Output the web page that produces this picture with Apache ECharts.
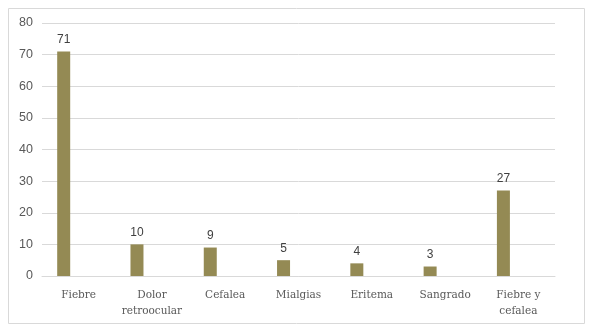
<!DOCTYPE html>
<html><head><meta charset="utf-8">
<script src="https://cdn.jsdelivr.net/npm/echarts@6/dist/echarts.min.js"></script>
<style>html,body{margin:0;padding:0;background:#fff}#c{width:589px;height:331px}</style>
</head><body><div id="c"></div>
<script>
const categories = ['Fiebre', 'Dolor\nretroocular', 'Cefalea', 'Mialgias', 'Eritema', 'Sangrado', 'Fiebre y\ncefalea'];
const values = [71, 10, 9, 5, 4, 3, 27];
const emptySeries = ['-', '-', '-', '-', '-', '-', '-'];
const chart = echarts.init(document.getElementById('c'));
chart.setOption({
  animation: false,
  graphic: [{type: 'rect', shape: {x: 8.5, y: 8.5, width: 576, height: 315}, style: {fill: 'none', stroke: '#d9d9d9', lineWidth: 1}}],
  grid: {left: 42, right: 34, top: 23, bottom: 55},
  xAxis: {
    type: 'category', data: categories,
    axisLine: {lineStyle: {color: '#d9d9d9'}}, axisTick: {show: false},
    axisLabel: {interval: 0, color: '#595959', fontFamily: 'DejaVu Serif', fontSize: 10.5, margin: 11, lineHeight: 16}
  },
  yAxis: {
    type: 'value', min: 0, max: 80, interval: 10,
    axisLine: {show: false}, axisTick: {show: false},
    splitLine: {lineStyle: {color: '#d9d9d9'}},
    axisLabel: {color: '#595959', fontFamily: 'Liberation Sans', fontSize: 12.5, margin: 9}
  },
  series: [
    {type: 'bar', data: values, barWidth: 13, barGap: '130%', itemStyle: {color: '#948a54'},
     label: {show: true, position: 'top', color: '#404040', fontFamily: 'Liberation Sans', fontSize: 12, distance: 6}},
    {type: 'bar', data: emptySeries, barWidth: 13}
  ]
});
</script></body></html>
